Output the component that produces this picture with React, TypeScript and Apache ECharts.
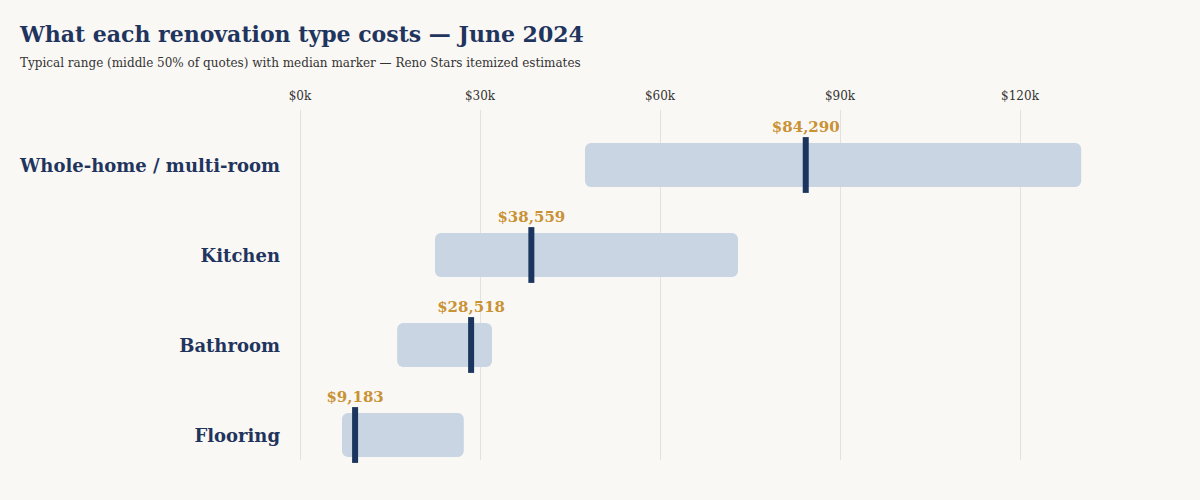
import React, { useEffect, useRef } from "react";
import * as echarts from "echarts";

// Renovation types, top to bottom
const categories = ["Whole-home / multi-room", "Kitchen", "Bathroom", "Flooring"];
// Interquartile range of quotes (USD)
const rangeLow = [47500, 22500, 16200, 7000];
const rangeHigh = [130200, 73000, 32000, 27300];
// Median quote (USD)
const medians = [84290, 38559, 28518, 9183];
// Axis ticks (USD)
const tickStep = 30000;
const axisMax = 135000;

const NAVY = "#1f355e";
const GOLD = "#c99234";
const SERIF = "'DejaVu Serif', Georgia, serif";

export default function App() {
  const ref = useRef<HTMLDivElement>(null);

  useEffect(() => {
    if (!ref.current) return;
    const chart = echarts.init(ref.current, undefined, { renderer: "svg" });

    const rows = categories.map((_, i) => [i, rangeLow[i], rangeHigh[i], medians[i]]);

    chart.setOption({
      animation: false,
      backgroundColor: "#faf8f5",
      title: {
        text: "What each renovation type costs — June 2024",
        subtext: "Typical range (middle 50% of quotes) with median marker — Reno Stars itemized estimates",
        left: 15,
        top: 18,
        itemGap: 12,
        textStyle: { fontFamily: SERIF, fontSize: 22, fontWeight: "bold", color: NAVY },
        subtextStyle: { fontFamily: SERIF, fontSize: 12, color: "#333" },
      },
      grid: [
        { left: 300, top: 110, width: 810, height: 350 },
        { left: 300, top: 120, width: 810, height: 360 },
      ],
      xAxis: [
        {
          gridIndex: 0,
          type: "value",
          position: "top",
          min: 0,
          max: axisMax,
          interval: tickStep,
          axisLine: { show: false },
          axisTick: { show: false },
          axisLabel: {
            showMaxLabel: false,
            margin: 8,
            fontFamily: SERIF,
            fontSize: 12,
            color: "#333",
            formatter: (v: number) => (v % tickStep === 0 ? `$${v / 1000}k` : ""),
          },
          splitLine: { show: true, showMaxLine: false, lineStyle: { color: "#e4e1dc", width: 1 } },
        },
        {
          gridIndex: 1,
          type: "value",
          min: 0,
          max: axisMax,
          show: false,
        },
      ],
      yAxis: [
        { gridIndex: 0, type: "value", show: false },
        {
          gridIndex: 1,
          type: "category",
          inverse: true,
          data: categories,
          axisLine: { show: false },
          axisTick: { show: false },
          axisLabel: {
            margin: 20,
            fontFamily: SERIF,
            fontSize: 18,
            fontWeight: "bold",
            color: NAVY,
          },
        },
      ],
      series: [
        {
          type: "custom",
          xAxisIndex: 1,
          yAxisIndex: 1,
          data: rows,
          encode: { x: [1, 2, 3], y: 0 },
          renderItem: (params: any, api: any) => {
            const ci = api.value(0);
            const lo = api.coord([api.value(1), ci]);
            const hi = api.coord([api.value(2), ci]);
            const md = api.coord([api.value(3), ci]);
            const band = api.size([0, 1])[1];
            const barH = band * 0.49;
            const markH = band * 0.62;
            const med = api.value(3) as number;
            return {
              type: "group",
              children: [
                {
                  type: "rect",
                  shape: { x: lo[0], y: lo[1] - barH / 2, width: hi[0] - lo[0], height: barH, r: 6 },
                  style: { fill: "#c9d5e3" },
                },
                {
                  type: "rect",
                  shape: { x: md[0] - 3, y: md[1] - markH / 2, width: 6, height: markH },
                  style: { fill: "#1b355e" },
                },
                {
                  type: "text",
                  x: md[0],
                  y: md[1] - band * 0.42,
                  style: {
                    text: "$" + med.toLocaleString("en-US"),
                    fill: GOLD,
                    font: `bold 15px ${SERIF}`,
                    align: "center",
                    verticalAlign: "middle",
                  },
                },
              ],
            };
          },
        },
      ],
    });

    return () => chart.dispose();
  }, []);

  return (
    <div
      ref={ref}
      style={{ position: "absolute", left: 0, top: 0, width: 1200, height: 500 }}
    />
  );
}
